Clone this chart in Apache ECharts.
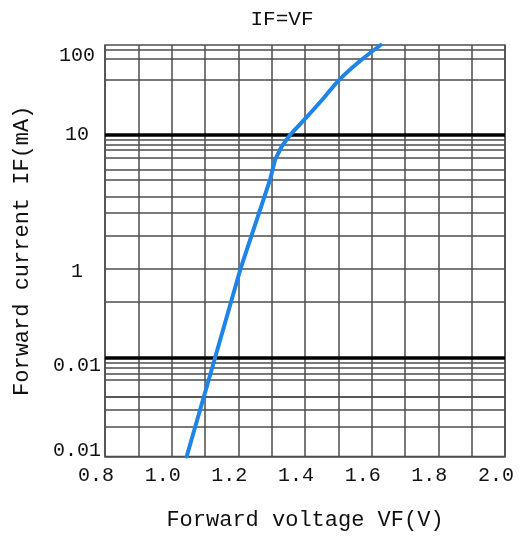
<!DOCTYPE html>
<html><head><meta charset="utf-8">
<script src="https://cdn.jsdelivr.net/npm/echarts@6/dist/echarts.min.js"></script>
<style>html,body{margin:0;padding:0;background:#fff}#c{width:529px;height:537px}</style>
</head><body><div id="c"></div>
<script>
// Curve (forward voltage V, forward current mA)
const voltage = [1.045, 1.13, 1.207, 1.295, 1.31, 1.33, 1.355, 1.40, 1.451, 1.502, 1.565, 1.627];
const current = [0.01, 0.1, 1, 4.6, 6.5, 8.2, 10, 15.1, 24.5, 40.8, 66.4, 100];
// Axis ticks and labels
const xTicks = [0.8, 1.0, 1.2, 1.4, 1.6, 1.8, 2.0];
const yTickValues = [0.01, 0.1, 1, 10, 100];
const yTickLabels = ['0.01', '0.01', '1', '10', '100'];
// Decades of the hand-drawn log grid (each drawn with its own height in the original)
const decades = [[10, 100], [1, 10], [0.1, 1], [0.01, 0.1]];
// Grid lines
const thickLines = [0.1, 10];
const minorLines = [0.016, 0.025, 0.035, 0.045, 0.06, 0.07, 0.08, 0.09,
  0.42,
  1.75, 2.63, 3.44, 4.65, 5.53, 6.78, 7.71, 8.49, 9.25,
  41, 70, 88];
const titleText = 'IF=VF';
const xName = 'Forward voltage VF(V)';
const yName = 'Forward current IF(mA)';

// ---- layout / style ----
const FONT = '"Liberation Mono", "DejaVu Sans Mono", monospace';
const GRID = '#4d4d4d';
const TEXT = '#111';
const PLOT_LEFT = 105, PLOT_RIGHT = 24;
const bandTops = [45, 135, 268.3, 358];
const bandHeights = [90, 133.3, 89.7, 98.5];
const bandSmooth = [0.3, 0, 0, 0];
const labelShift = [[11, 0], [0, 0], [3, 0], [8, -6]]; // [max label dy, min label dy]

const near = (a, b) => Math.abs(Math.log10(a) - Math.log10(b)) < 1e-6;
const labelOf = v => { const i = yTickValues.findIndex(t => near(t, v)); return i >= 0 ? yTickLabels[i] : ''; };

const chart = echarts.init(document.getElementById('c'));

const grids = [{ left: PLOT_LEFT, right: PLOT_RIGHT, top: 45, bottom: 80.5, show: true, borderColor: GRID, borderWidth: 1.5 }];
const xAxes = [{
  type: 'value', min: 0.8, max: 2.0, interval: 0.1, gridIndex: 0,
  name: xName, nameLocation: 'middle', nameGap: 53,
  nameTextStyle: { fontFamily: FONT, fontSize: 22, color: TEXT },
  axisLine: { show: true, lineStyle: { color: GRID, width: 1.5 } },
  axisTick: { show: false },
  splitLine: { show: true, lineStyle: { color: GRID, width: 1.5 } },
  axisLabel: {
    margin: 9, fontFamily: FONT, fontSize: 20, color: TEXT, padding: [0, 18, 0, 0],
    formatter: v => xTicks.some(t => Math.abs(t - v) < 1e-6) ? v.toFixed(1) : ''
  }
}];
const yAxes = [{
  type: 'value', min: 0, max: 1, gridIndex: 0,
  name: yName, nameLocation: 'middle', nameGap: 72,
  nameTextStyle: { fontFamily: FONT, fontSize: 22, color: TEXT },
  axisLine: { show: false }, axisTick: { show: false }, axisLabel: { show: false }, splitLine: { show: false }
}];
const series = [];

decades.forEach(([lo, hi], k) => {
  const gi = k + 1;
  const last = k === decades.length - 1;
  grids.push({ left: PLOT_LEFT, right: PLOT_RIGHT, top: bandTops[k], height: bandHeights[k] });
  xAxes.push({ type: 'value', min: 0.8, max: 2.0, gridIndex: gi, show: false });
  const [dMax, dMin] = labelShift[k];
  yAxes.push({
    type: 'log', logBase: 10, min: lo, max: hi, gridIndex: gi,
    axisLine: { show: false }, axisTick: { show: false }, splitLine: { show: false },
    axisLabel: {
      margin: 28, align: 'center', showMinLabel: last, showMaxLabel: true,
      formatter: v => {
        const s = labelOf(v);
        if (!s) return '';
        if (near(v, hi)) return '{mx|' + s + '}';
        if (last && near(v, lo)) return '{mn|' + s + '}';
        return '';
      },
      rich: {
        mx: { fontFamily: FONT, fontSize: 20, color: TEXT, padding: dMax >= 0 ? [2 * dMax, 0, 0, 0] : [0, 0, -2 * dMax, 0] },
        mn: { fontFamily: FONT, fontSize: 20, color: TEXT, padding: dMin >= 0 ? [2 * dMin, 0, 0, 0] : [0, 0, -2 * dMin, 0] }
      }
    }
  });
  const lines = minorLines.filter(v => v > lo && v < hi)
    .map(v => ({ yAxis: v, lineStyle: { color: GRID, width: 1.5, type: 'solid' } }));
  if (!last) {
    const thick = thickLines.some(t => near(t, lo));
    lines.push({ yAxis: lo, lineStyle: thick ? { color: '#000', width: 3.5, type: 'solid' } : { color: GRID, width: 1.5, type: 'solid' } });
  }
  series.push({
    type: 'line', data: [], xAxisIndex: gi, yAxisIndex: gi, z: 1, silent: true, clip: false,
    markLine: { silent: true, symbol: 'none', label: { show: false }, animation: false, data: lines }
  });
  const pts = voltage.map((v, i) => [v, current[i]])
    .filter(p => p[1] >= lo * (1 - 1e-9) && p[1] <= hi * (1 + 1e-9));
  series.push({
    type: 'line', data: pts, xAxisIndex: gi, yAxisIndex: gi, z: 5, clip: false,
    showSymbol: false, smooth: bandSmooth[k],
    lineStyle: { color: '#1E84E6', width: 4, cap: 'round', join: 'round' }
  });
});

chart.setOption({
  animation: false,
  backgroundColor: '#fff',
  title: {
    text: titleText, left: 282, top: 9, textAlign: 'center', padding: 0,
    textStyle: { fontFamily: FONT, fontSize: 21, fontWeight: 'normal', color: TEXT }
  },
  grid: grids, xAxis: xAxes, yAxis: yAxes, series: series
});
</script>
</body></html>
